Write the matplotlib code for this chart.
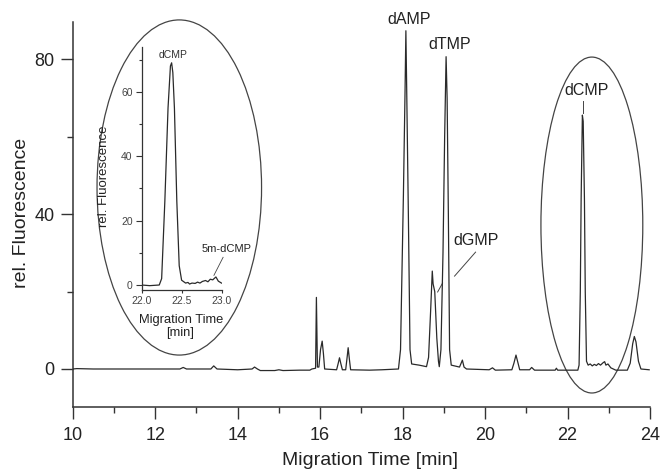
import matplotlib
matplotlib.use("Agg")
import matplotlib.pyplot as plt
from matplotlib.patches import Ellipse
from matplotlib.ticker import MultipleLocator

# ---- data ----
time_min = [10.00, 10.10, 10.50, 11.50, 12.60, 12.68, 12.76, 13.35, 13.42, 13.50,
            14.00, 14.35, 14.41, 14.48, 14.55, 14.90, 15.00, 15.10, 15.50, 15.75,
            15.80, 15.89, 15.91, 15.935, 15.97, 16.01, 16.05, 16.08, 16.11, 16.40,
            16.44, 16.47, 16.50, 16.54, 16.62, 16.66, 16.68, 16.71, 16.74, 17.20,
            17.50, 17.90, 17.95, 18.02, 18.06, 18.08, 18.10, 18.14, 18.18, 18.22,
            18.40, 18.58, 18.63, 18.68, 18.72, 18.74, 18.78, 18.83, 18.87, 18.89,
            18.93, 18.98, 19.02, 19.055, 19.08, 19.11, 19.14, 19.18, 19.38, 19.42,
            19.45, 19.49, 19.55, 20.10, 20.18, 20.25, 20.65, 20.70, 20.75, 20.80,
            20.84, 21.08, 21.13, 21.20, 21.70, 21.73, 21.76, 22.25, 22.28, 22.31,
            22.33, 22.36, 22.38, 22.41, 22.43, 22.46, 22.50, 22.55, 22.60, 22.65,
            22.70, 22.75, 22.80, 22.86, 22.90, 22.93, 22.98, 23.05, 23.17, 23.45,
            23.52, 23.58, 23.62, 23.66, 23.72, 23.78, 23.98]
fluorescence = [0.0, 0.1, 0.0, 0.0, 0.0, 0.4, 0.0, 0.0, 0.8, 0.0,
                -0.2, 0.0, 0.5, 0.0, -0.4, -0.4, -0.2, -0.4, -0.3, -0.3,
                0.0, 0.2, 18.5, 0.5, 0.5, 5.0, 7.2, 4.0, 0.0, -0.2,
                1.5, 2.9, 1.5, -0.2, -0.2, 3.5, 5.5, 2.5, -0.2, -0.3,
                -0.2, 0.0, 5.0, 45.0, 72.0, 87.4, 72.0, 40.0, 5.0, 1.3,
                1.0, 0.6, 3.0, 15.0, 25.3, 22.0, 20.0, 8.0, 2.0, 0.6,
                5.0, 30.0, 60.0, 80.7, 70.0, 40.0, 5.0, 1.0, 0.5, 1.5,
                2.3, 0.5, 0.0, -0.2, 0.3, -0.3, -0.2, 1.5, 3.6, 1.5,
                -0.2, -0.2, 0.4, -0.3, -0.3, 0.2, -0.3, -0.3, 1.0, 20.0,
                44.0, 65.6, 64.0, 44.0, 20.0, 2.0, 1.0, 1.3, 0.8, 1.2,
                0.9, 1.4, 1.0, 1.6, 1.9, 1.0, 1.3, 0.3, -0.3, -0.3,
                1.5, 6.5, 8.4, 7.0, 2.0, 0.0, -0.2]

inset_time = [22.00, 22.10, 22.22, 22.25, 22.29, 22.33, 22.36, 22.375, 22.39, 22.41,
              22.44, 22.47, 22.50, 22.55, 22.58, 22.60, 22.63, 22.67, 22.70, 22.73,
              22.76, 22.80, 22.83, 22.86, 22.89, 22.93, 22.96, 23.00]
inset_fluor = [0.0, -0.2, 0.0, 2.0, 26.0, 55.0, 68.0, 69.0, 66.0, 55.0,
               26.0, 6.0, 1.5, 0.6, 0.8, 0.3, 0.6, 0.5, 0.9, 0.6,
               1.1, 1.4, 1.0, 1.8, 1.6, 2.5, 1.2, 0.6]

main_xticks = [10, 12, 14, 16, 18, 20, 22, 24]
main_yticks = [0, 40, 80]
inset_xticks = [22.0, 22.5, 23.0]
inset_yticks = [0, 20, 40, 60]

# ---- style ----
plt.rcParams['font.family'] = ['Liberation Sans', 'DejaVu Sans']
line_c = '#2a2a2a'
W, H = 661, 470

fig = plt.figure(figsize=(W / 100, H / 100), dpi=100)
fig.patch.set_facecolor('white')

# main axes
ax = fig.add_axes([72.7 / W, 1 - 407 / H, 577.3 / W, 385.3 / H])
ax.plot(time_min, fluorescence, color=line_c, lw=0.9, zorder=3)
ax.set_xlim(10, 24)
ax.set_ylim(-9.82, 89.74)
for s in ['top', 'right']:
    ax.spines[s].set_visible(False)
for s in ['left', 'bottom']:
    ax.spines[s].set_linewidth(1.1)
    ax.spines[s].set_color('#333333')
ax.set_xticks(main_xticks)
ax.set_yticks(main_yticks)
ax.xaxis.set_minor_locator(MultipleLocator(1))
ax.yaxis.set_minor_locator(MultipleLocator(20))
ax.tick_params(which='major', length=8.6, width=1.0, color='#333333',
               labelsize=13, labelcolor='#222222', pad=4.5)
ax.tick_params(axis='x', which='major', pad=6)
ax.tick_params(which='minor', length=4.3, width=1.0, color='#333333')

fig.text(21.5 / W, 1 - 212.5 / H, 'rel. Fluorescence', rotation=90,
         ha='center', va='center', fontsize=14, color='#222222')
fig.text(369.5 / W, 1 - 465 / H, 'Migration Time [min]',
         ha='center', va='baseline', fontsize=14, color='#222222')

# peak labels
lab_fs = 11.5
ax.text(18.15, 90.2, 'dAMP', ha='center', va='center', fontsize=lab_fs,
        color='#222222', clip_on=False)
ax.text(19.15, 83.9, 'dTMP', ha='center', va='center', fontsize=lab_fs, color='#222222')
ax.text(19.78, 33.2, 'dGMP', ha='center', va='center', fontsize=lab_fs, color='#222222')
ax.text(22.45, 71.9, 'dCMP', ha='center', va='center', fontsize=lab_fs, color='#222222')
ax.plot([19.77, 19.26], [30.2, 24.0], color='#444444', lw=0.7)
ax.plot([18.97, 18.85], [22.2, 19.9], color='#444444', lw=0.7)
ax.plot([22.37, 22.37], [69.3, 66.2], color='#444444', lw=0.7)

# ellipses
ax.add_patch(Ellipse((12.585, 46.9), 3.99, 86.6, fill=False, ec='#444444',
                     lw=0.9, clip_on=False, zorder=1))
ax.add_patch(Ellipse((22.59, 37.2), 2.47, 86.8, fill=False, ec='#444444',
                     lw=0.9, clip_on=False, zorder=1))

# inset
axi = fig.add_axes([141.7 / W, 1 - 290 / H, 79.8 / W, (290 - 46.7) / H])
axi.patch.set_alpha(0)
axi.plot(inset_time, inset_fluor, color=line_c, lw=0.9)
axi.set_xlim(22.0, 23.0)
axi.set_ylim(-1.55, 74.0)
for s in ['top', 'right']:
    axi.spines[s].set_visible(False)
for s in ['left', 'bottom']:
    axi.spines[s].set_linewidth(0.9)
    axi.spines[s].set_color('#333333')
axi.set_xticks(inset_xticks)
axi.set_xticklabels(['22.0', '22.5', '23.0'])
axi.set_yticks(inset_yticks)
axi.yaxis.set_minor_locator(MultipleLocator(10))
axi.tick_params(which='major', length=4.5, width=0.8, color='#333333',
                labelsize=7.5, labelcolor='#444444', pad=2)
axi.tick_params(axis='x', which='major', length=2.5)
axi.tick_params(which='minor', length=2.5, width=0.8, color='#333333')
fig.text(103.7 / W, 1 - 175.8 / H, 'rel. Fluorescence', rotation=90,
         ha='center', va='center', fontsize=9.5, color='#222222')
fig.text(180.8 / W, 1 - 320 / H, 'Migration Time', ha='center', va='center',
         fontsize=9.3, color='#222222')
fig.text(180.5 / W, 1 - 333.3 / H, '[min]', ha='center', va='center',
         fontsize=9.3, color='#222222')
axi.text(22.39, 71.5, 'dCMP', ha='center', va='center', fontsize=7.5,
         color='#333333', clip_on=False)
axi.text(23.06, 11.3, '5m-dCMP', ha='center', va='center', fontsize=8,
         color='#222222', clip_on=False)
axi.plot([23.02, 22.905], [8.6, 3.0], color='#444444', lw=0.6, clip_on=False)

fig.savefig('out.png', dpi=100, facecolor='white')
